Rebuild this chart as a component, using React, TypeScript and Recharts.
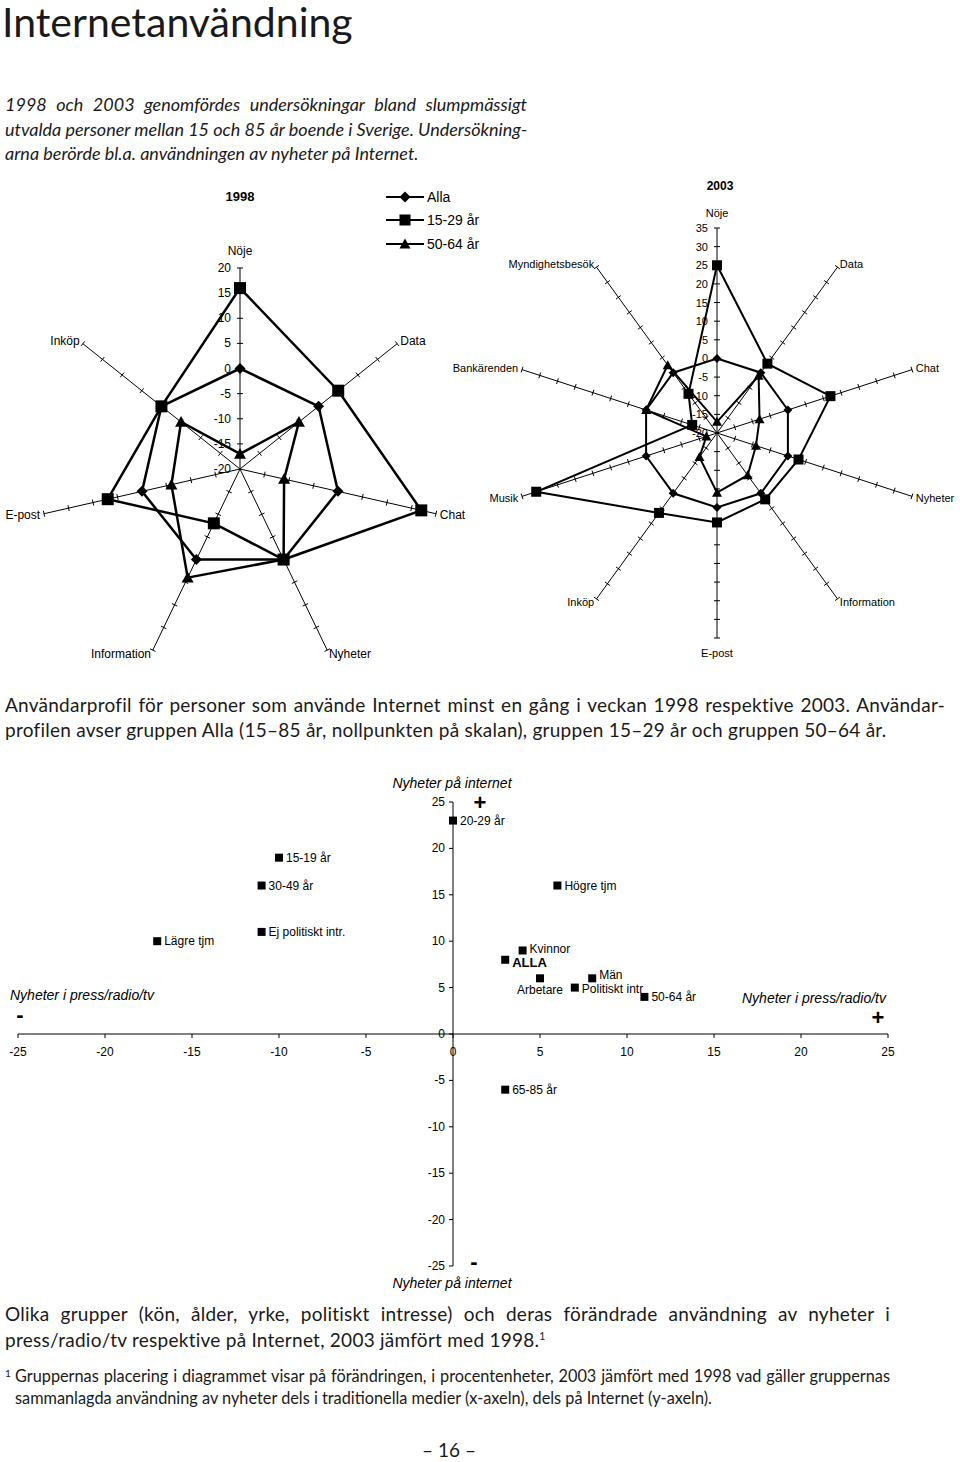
import React from 'react';
import {
  RadarChart,
  Radar,
  PolarAngleAxis,
  PolarRadiusAxis,
  Legend,
  ScatterChart,
  Scatter,
  XAxis,
  YAxis,
  ZAxis,
  ReferenceLine,
  ReferenceDot,
  LabelList,
} from 'recharts';

// Radar 1998 – deviation from Alla (procentenheter)
const axes1998 = ['Nöje', 'Data', 'Chat', 'Nyheter', 'Information', 'E-post', 'Inköp'];
const alla1998 = [0, 0, 0, 0, 0, 0, 0];
const unga1998 = [16, 5, 17, 0, -8, 7, 0];
const aldre1998 = [-17, -5, -11, 0, 4, -6, -5];
const ticks1998 = [-20, -15, -10, -5, 0, 5, 10, 15, 20];

// Radar 2003
const axes2003 = ['Nöje', 'Data', 'Chat', 'Nyheter', 'Information', 'E-post', 'Inköp', 'Musik', 'Bankärenden', 'Myndighetsbesök'];
const alla2003 = [0, 0, 0, 0, 0, 0, 0, 0, 0, 0];
const unga2003 = [25, 3, 12, 3, 2, 4, 6.5, 31, -13, -7];
const aldre2003 = [-17, -1, -8, -9, -6, -4, -12, -17, 0, 2.5];
const ticks2003 = [-20, -15, -10, -5, 0, 5, 10, 15, 20, 25, 30, 35];

const seriesNames = ['Alla', '15-29 år', '50-64 år'];

// Scatter – change 2003 vs 1998
const groups = ['20-29 år', '15-19 år', '30-49 år', 'Ej politiskt intr.', 'Lägre tjm', 'Högre tjm', 'Kvinnor', 'ALLA', 'Arbetare', 'Män', 'Politiskt intr', '50-64 år', '65-85 år'];
const pressChange = [0, -10, -11, -11, -17, 6, 4, 3, 5, 8, 7, 11, 3];
const internetChange = [23, 19, 16, 11, 10, 16, 9, 8, 6, 6, 5, 4, -6];
const scatterTicks = [-25, -20, -15, -10, -5, 0, 5, 10, 15, 20, 25];

const bodyFont = 'Lato, "Open Sans", sans-serif';
const chartFont = '"Liberation Sans", Arial, sans-serif';

type MarkerFn = (cx: number, cy: number, s: number, key?: React.Key) => React.ReactElement;
const diamond: MarkerFn = (cx, cy, s, key) => (
  <path key={key} d={`M${cx},${cy - s}L${cx + s},${cy}L${cx},${cy + s}L${cx - s},${cy}Z`} fill="#000" />
);
const square: MarkerFn = (cx, cy, s, key) => (
  <rect key={key} x={cx - s} y={cy - s} width={2 * s} height={2 * s} fill="#000" />
);
const triangle: MarkerFn = (cx, cy, s, key) => (
  <path key={key} d={`M${cx},${cy - s}L${cx + s},${cy + s * 0.8}L${cx - s},${cy + s * 0.8}Z`} fill="#000" />
);
const markerOf: Record<string, MarkerFn> = { Alla: diamond, '15-29 år': square, '50-64 år': triangle };

const dotFor = (m: MarkerFn, s: number) => (p: any) => m(p.cx, p.cy, s, p.index);

const spokeTick = (angle: number, showLabel: boolean, fontSize: number) => (p: any) => {
  const { x, y, payload, index } = p;
  const rad = (angle * Math.PI) / 180;
  const px = Math.sin(rad) * 3;
  const py = Math.cos(rad) * 3;
  return (
    <g>
      {index > 0 && <line x1={x - px} y1={y - py} x2={x + px} y2={y + py} stroke="#000" strokeWidth={1} />}
      {showLabel && (
        <text x={x - 9} y={y} textAnchor="end" dominantBaseline="central" fontSize={fontSize} fill="#000">
          {payload.value}
        </text>
      )}
    </g>
  );
};

const angleTick = (cx: number, cy: number, lift: number, fontSize: number) => (p: any) => {
  const { x, y, payload } = p;
  const anchor = Math.abs(x - cx) < 1 ? 'middle' : x > cx ? 'start' : 'end';
  const dy = anchor === 'middle' ? (y < cy ? -lift : lift) : 0;
  return (
    <text x={x} y={y + dy} textAnchor={anchor} dominantBaseline="central" fontSize={fontSize} fill="#000">
      {payload.value}
    </text>
  );
};

const renderLegend = (props: any) => {
  const payload: any[] = props.payload || [];
  const ordered = seriesNames.map((n) => payload.find((e) => e.value === n)).filter(Boolean);
  return (
    <div style={{ fontFamily: chartFont, fontSize: 14, color: '#000' }}>
      {ordered.map((e: any) => (
        <div key={e.value} style={{ display: 'flex', alignItems: 'center', height: 23.5 }}>
          <svg width={38} height={16}>
            <line x1={0} y1={8} x2={38} y2={8} stroke="#000" strokeWidth={2} />
            {markerOf[e.value](19, 8, 5.5)}
          </svg>
          <span style={{ marginLeft: 3 }}>{e.value}</span>
        </div>
      ))}
    </div>
  );
};

interface ProfileProps {
  axes: string[];
  alla: number[];
  unga: number[];
  aldre: number[];
  ticks: number[];
  width: number;
  height: number;
  cx: number;
  cy: number;
  radius: number;
  fontSize: number;
  lift: number;
  marker: number;
  lineWidth: number;
  legend?: boolean;
}

function Profile({ axes, alla, unga, aldre, ticks, width, height, cx, cy, radius, fontSize, lift, marker, lineWidth, legend }: ProfileProps) {
  const data = axes.map((axis, i) => ({ axis, alla: alla[i], unga: unga[i], aldre: aldre[i] }));
  const domain = [ticks[0], ticks[ticks.length - 1]];
  return (
    <RadarChart width={width} height={height} data={data} cx={cx} cy={cy} outerRadius={radius} innerRadius={0} margin={{ top: 0, right: 0, bottom: 0, left: 0 }}>
      <PolarAngleAxis dataKey="axis" tick={angleTick(cx, cy, lift, fontSize)} tickLine={false} axisLine={false} tickSize={4} />
      {axes.map((a, i) => {
        const angle = 90 - (i * 360) / axes.length;
        return (
          <PolarRadiusAxis
            key={a}
            radiusAxisId={i}
            angle={angle}
            type="number"
            domain={domain}
            ticks={ticks}
            tickCount={ticks.length}
            allowDataOverflow
            stroke="#000"
            axisLine={{ stroke: '#000', strokeWidth: 1 }}
            tick={spokeTick(angle, i === 0, fontSize)}
          />
        );
      })}
      <Radar name="50-64 år" dataKey="aldre" stroke="#000" strokeWidth={lineWidth} fill="none" fillOpacity={0} dot={dotFor(triangle, marker)} isAnimationActive={false} />
      <Radar name="15-29 år" dataKey="unga" stroke="#000" strokeWidth={lineWidth} fill="none" fillOpacity={0} dot={dotFor(square, marker)} isAnimationActive={false} />
      <Radar name="Alla" dataKey="alla" stroke="#000" strokeWidth={lineWidth} fill="none" fillOpacity={0} dot={dotFor(diamond, marker - 0.5)} isAnimationActive={false} />
      {legend && (
        <Legend layout="vertical" align="right" verticalAlign="top" content={renderLegend} wrapperStyle={{ left: 386, top: 5, width: 100 }} />
      )}
    </RadarChart>
  );
}

const xTick = (v: number) => (p: any) => (
  <g>
    <line x1={p.cx} y1={p.cy} x2={p.cx} y2={p.cy + 4} stroke="#000" />
    <text x={p.cx} y={p.cy + 18} textAnchor="middle" dominantBaseline="central" fontSize={12} fill="#000">
      {v}
    </text>
  </g>
);

const yTick = (v: number) => (p: any) => (
  <g>
    <line x1={p.cx - 4} y1={p.cy} x2={p.cx} y2={p.cy} stroke="#000" />
    <text x={p.cx - 8} y={p.cy} textAnchor="end" dominantBaseline="central" fontSize={12} fill="#000">
      {v}
    </text>
  </g>
);

// small vertical nudges so neighbouring labels sit as in the print
const labelShift: Record<string, number> = { Kvinnor: -1, ALLA: 3, Män: -3, 'Politiskt intr': 1 };

const groupLabel = (p: any) => {
  const vb = p.viewBox || {};
  const x = (vb.x ?? p.x) + (vb.width ?? p.width ?? 0) / 2;
  const y = (vb.y ?? p.y) + (vb.height ?? p.height ?? 0) / 2;
  const name = String(p.value);
  if (name === 'Arbetare') {
    return (
      <text x={x} y={y + 12} textAnchor="middle" dominantBaseline="central" fontSize={12} fill="#000">
        {name}
      </text>
    );
  }
  const bold = name === 'ALLA';
  return (
    <text x={x + 7} y={y + (labelShift[name] ?? 0)} textAnchor="start" dominantBaseline="central" fontSize={bold ? 13 : 12} fontWeight={bold ? 'bold' : 'normal'} fill="#000">
      {name}
    </text>
  );
};

function Para({ lines, left, top, width, size, lh, italic, spacing = 0 }: { lines: React.ReactNode[]; left: number; top: number; width: number; size: number; lh: number; italic?: boolean; spacing?: number }) {
  return (
    <div style={{ position: 'absolute', left, top, width, fontFamily: bodyFont, fontSize: size, lineHeight: `${lh}px`, fontStyle: italic ? 'italic' : 'normal', letterSpacing: spacing }}>
      {lines.map((t, i) => (
        <div key={i} style={{ whiteSpace: 'nowrap', textAlign: 'justify', textAlignLast: i < lines.length - 1 ? 'justify' : 'left' }}>
          {t}
        </div>
      ))}
    </div>
  );
}

const sup = (t: string) => <span style={{ fontSize: '0.55em', position: 'relative', top: '-0.7em', lineHeight: 0 }}>{t}</span>;

const abs = (left: number, top: number, extra: React.CSSProperties = {}): React.CSSProperties => ({ position: 'absolute', left, top, ...extra });

export default function App() {
  const scatterData = groups.map((name, i) => ({ name, x: pressChange[i], y: internetChange[i] }));
  return (
    <div style={{ position: 'absolute', left: 0, top: 0, width: 960, height: 1462, background: '#fff', color: '#1a1a1a', overflow: 'hidden' }}>
      <div style={abs(2, 0, { fontFamily: bodyFont, fontSize: 41, lineHeight: '44px', whiteSpace: 'nowrap' })}>Internetanvändning</div>

      <Para
        left={5}
        top={92}
        width={522}
        size={18}
        lh={24.5}
        italic
        lines={[
          '1998 och 2003 genomfördes undersökningar bland slumpmässigt',
          'utvalda personer mellan 15 och 85 år boende i Sverige. Undersökning-',
          'arna berörde bl.a. användningen av nyheter på Internet.',
        ]}
      />

      <div style={abs(0, 180, { fontFamily: chartFont })}>
        <Profile axes={axes1998} alla={alla1998} unga={unga1998} aldre={aldre1998} ticks={ticks1998} width={480} height={490} cx={240} cy={289} radius={201} fontSize={12} lift={13} marker={6} lineWidth={2.5} legend />
      </div>
      <div style={abs(430, 170, { fontFamily: chartFont })}>
        <Profile axes={axes2003} alla={alla2003} unga={unga2003} aldre={aldre2003} ticks={ticks2003} width={530} height={500} cx={287} cy={263} radius={205} fontSize={11} lift={11} marker={5} lineWidth={2} />
      </div>
      <div style={abs(200, 189, { width: 80, textAlign: 'center', fontFamily: chartFont, fontWeight: 'bold', fontSize: 13, lineHeight: '16px', color: '#000' })}>1998</div>
      <div style={abs(680, 178, { width: 80, textAlign: 'center', fontFamily: chartFont, fontWeight: 'bold', fontSize: 12, lineHeight: '16px', color: '#000' })}>2003</div>

      <Para
        left={5}
        top={692}
        width={940}
        size={19}
        lh={25}
        spacing={0.25}
        lines={[
          'Användarprofil för personer som använde Internet minst en gång i veckan 1998 respektive 2003. Användar-',
          'profilen avser gruppen Alla (15–85 år, nollpunkten på skalan), gruppen 15–29 år och gruppen 50–64 år.',
        ]}
      />

      <div style={abs(0, 770, { fontFamily: chartFont })}>
        <ScatterChart width={960} height={530} margin={{ top: 32, right: 72, bottom: 34, left: 18 }}>
          <XAxis type="number" dataKey="x" domain={[-25, 25]} hide />
          <YAxis type="number" dataKey="y" domain={[-25, 25]} hide />
          <ZAxis range={[49, 49]} />
          <ReferenceLine x={0} stroke="#000" strokeWidth={1} />
          <ReferenceLine y={0} stroke="#000" strokeWidth={1} />
          {scatterTicks.map((v) => (
            <ReferenceDot key={`x${v}`} x={v} y={0} r={0} shape={xTick(v)} />
          ))}
          {scatterTicks.map((v) => (
            <ReferenceDot key={`y${v}`} x={0} y={v} r={0} shape={yTick(v)} />
          ))}
          <Scatter data={scatterData} fill="#000" shape="square" isAnimationActive={false}>
            <LabelList dataKey="name" content={groupLabel} />
          </Scatter>
        </ScatterChart>
      </div>
      <div style={{ fontFamily: chartFont, fontStyle: 'italic', fontSize: 14, color: '#000' }}>
        <div style={abs(452, 783, { transform: 'translate(-50%, -50%)', whiteSpace: 'nowrap' })}>Nyheter på internet</div>
        <div style={abs(452, 1283, { transform: 'translate(-50%, -50%)', whiteSpace: 'nowrap' })}>Nyheter på internet</div>
        <div style={abs(10, 995, { transform: 'translateY(-50%)', whiteSpace: 'nowrap' })}>Nyheter i press/radio/tv</div>
        <div style={abs(742, 998, { transform: 'translateY(-50%)', whiteSpace: 'nowrap' })}>Nyheter i press/radio/tv</div>
      </div>
      <div style={{ fontFamily: chartFont, fontWeight: 'bold', fontSize: 22, color: '#000' }}>
        <div style={abs(480, 803, { transform: 'translate(-50%, -50%)' })}>+</div>
        <div style={abs(878, 1018, { transform: 'translate(-50%, -50%)' })}>+</div>
        <div style={abs(20, 1015, { transform: 'translate(-50%, -50%)' })}>-</div>
        <div style={abs(474, 1262, { transform: 'translate(-50%, -50%)' })}>-</div>
      </div>

      <Para
        left={5}
        top={1301}
        width={885}
        size={19}
        lh={26}
        spacing={0.25}
        lines={[
          'Olika grupper (kön, ålder, yrke, politiskt intresse) och deras förändrade användning av nyheter i',
          <>press/radio/tv respektive på Internet, 2003 jämfört med 1998.{sup('1')}</>,
        ]}
      />

      <div style={abs(5, 1366, { fontFamily: bodyFont, fontSize: 10, lineHeight: '14px' })}>1</div>
      <Para
        left={15}
        top={1365}
        width={875}
        size={16.3}
        lh={22}
        lines={[
          'Gruppernas placering i diagrammet visar på förändringen, i procentenheter, 2003 jämfört med 1998 vad gäller gruppernas',
          'sammanlagda användning av nyheter dels i traditionella medier (x-axeln), dels på Internet (y-axeln).',
        ]}
      />

      <div style={abs(400, 1437, { width: 98, textAlign: 'center', fontFamily: bodyFont, fontSize: 19, lineHeight: '25px' })}>– 16 –</div>
    </div>
  );
}
